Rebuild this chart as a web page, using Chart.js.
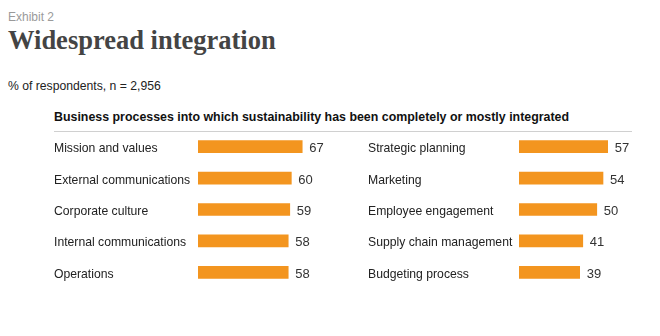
<!DOCTYPE html>
<html>
<head>
<meta charset="utf-8">
<script src="https://cdn.jsdelivr.net/npm/chart.js@4"></script>
<style>
  body { margin: 0; background: #fff; font-family: 'Liberation Sans', Arial, sans-serif; }
  #page { position: relative; width: 660px; height: 336px; overflow: hidden; }
  .txt { position: absolute; white-space: nowrap; }
  #exhibit { left: 8px; top: 10px; font-size: 12px; color: #9a9a9a; }
  #title { left: 8px; top: 25px; font-family: 'Liberation Serif', serif; font-weight: bold; font-size: 26.5px; color: #444; }
  #unit { left: 8px; top: 79px; font-size: 12.2px; color: #222; }
  #subtitle { left: 54px; top: 110px; font-size: 12.4px; font-weight: bold; color: #111; }
  #rule { position: absolute; left: 54px; top: 131px; width: 578px; height: 1px; background: #d0d0d0; }
  canvas { position: absolute; }
</style>
</head>
<body>
<div id="page">
  <div class="txt" id="exhibit">Exhibit 2</div>
  <div class="txt" id="title">Widespread integration</div>
  <div class="txt" id="unit">% of respondents, n = 2,956</div>
  <div class="txt" id="subtitle">Business processes into which sustainability has been completely or mostly integrated</div>
  <div id="rule"></div>
  <canvas id="leftChart" width="284" height="157" style="left:54px; top:131px;"></canvas>
  <canvas id="rightChart" width="291" height="157" style="left:368px; top:131px;"></canvas>
</div>
<script>
// ---- data ----
const leftCategories = ['Mission and values', 'External communications', 'Corporate culture', 'Internal communications', 'Operations'];
const leftValues = [67, 60, 59, 58, 58];
const rightCategories = ['Strategic planning', 'Marketing', 'Employee engagement', 'Supply chain management', 'Budgeting process'];
const rightValues = [57, 54, 50, 41, 39];

const BAR_COLOR = '#f3951f';
const X_MAX = 90;
const FONT = '"Liberation Sans", Arial, sans-serif';

// category names at the left edge of the y axis, numbers past each bar end
const rowLabels = {
    id: 'rowLabels',
    afterDatasetsDraw(chart) {
        const ctx = chart.ctx;
        const yScale = chart.scales.y;
        const meta = chart.getDatasetMeta(0);
        const data = chart.data.datasets[0].data;
        ctx.save();
        ctx.textAlign = 'left';
        ctx.textBaseline = 'alphabetic';
        ctx.font = '12.2px ' + FONT;
        ctx.fillStyle = '#222';
        chart.data.labels.forEach((lab, i) => {
            ctx.fillText(lab, yScale.left, yScale.getPixelForTick(i) + 5.5);
        });
        ctx.font = '13px ' + FONT;
        ctx.fillStyle = '#333';
        meta.data.forEach((bar, i) => {
            ctx.fillText(String(data[i]), bar.x + 7, bar.y + 5.5);
        });
        ctx.restore();
    }
};

function makePanel(id, labels, values, axisWidth) {
    new Chart(document.getElementById(id), {
        type: 'bar',
        data: {
            labels: labels,
            datasets: [{
                data: values,
                backgroundColor: BAR_COLOR,
                borderWidth: 0,
                barThickness: 12
            }]
        },
        options: {
            indexAxis: 'y',
            responsive: false,
            animation: false,
            layout: { padding: 0 },
            plugins: {
                legend: { display: false },
                tooltip: { enabled: false }
            },
            scales: {
                x: {
                    display: false,
                    min: 0,
                    max: X_MAX
                },
                y: {
                    grid: { display: false },
                    border: { display: false },
                    ticks: { display: false },
                    afterFit(scale) { scale.width = axisWidth; }
                }
            }
        },
        plugins: [rowLabels]
    });
}

makePanel('leftChart', leftCategories, leftValues, 144);
makePanel('rightChart', rightCategories, rightValues, 151);
</script>
</body>
</html>
